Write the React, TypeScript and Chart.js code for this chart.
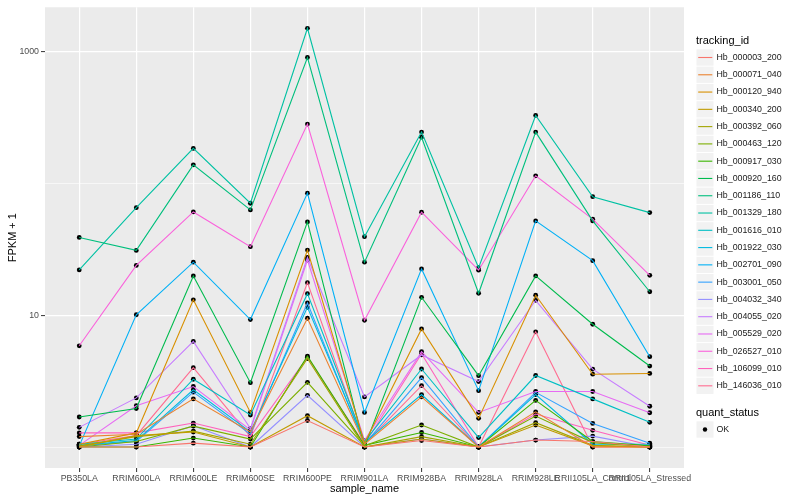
import React, { useEffect, useRef } from "react";
import { Chart, registerables } from "chart.js";

Chart.register(...registerables);

const SAMPLES = [
  "PB350LA", "RRIM600LA", "RRIM600LE", "RRIM600SE", "RRIM600PE", "RRIM901LA",
  "RRIM928BA", "RRIM928LA", "RRIM928LE", "RRII105LA_Control", "RRII105LA_Stressed",
];

const TRACKING_IDS = [
  "Hb_000003_200", "Hb_000071_040", "Hb_000120_940", "Hb_000340_200", "Hb_000392_060",
  "Hb_000463_120", "Hb_000917_030", "Hb_000920_160", "Hb_001186_110", "Hb_001329_180",
  "Hb_001616_010", "Hb_001922_030", "Hb_002701_090", "Hb_003001_050", "Hb_004032_340",
  "Hb_004055_020", "Hb_005529_020", "Hb_026527_010", "Hb_106099_010", "Hb_146036_010",
];

const COLORS = [
  "#F8766D", "#EA8331", "#D89000", "#C09B00", "#A3A500", "#7CAE00", "#39B600", "#00BB4E",
  "#00BF7D", "#00C1A3", "#00BFC4", "#00BAE0", "#00B0F6", "#35A2FF", "#9590FF", "#C77CFF",
  "#E76BF3", "#FA62DB", "#FF62BC", "#FF6C91",
];

const Y_TICKS = [1, 10, 100, 1000];
const Y_LABELED = [10, 1000];

// FPKM + 1 per sample (same order as SAMPLES)
const hb_000003_200 = [1.0, 1.0, 1.07, 1.0, 1.59, 1.0, 1.12, 1.0, 1.13, 1.1, 1.0];
const hb_000071_040 = [1.2, 1.25, 2.32, 1.3, 9.5, 1.05, 2.4, 1.0, 1.85, 1.0, 1.0];
const hb_000120_940 = [1.05, 1.28, 13.1, 1.83, 31.3, 1.07, 7.88, 1.65, 14.2, 3.57, 3.62];
const hb_000340_200 = [1.0, 1.22, 1.3, 1.0, 1.73, 1.0, 1.15, 1.0, 1.47, 1.02, 1.0];
const hb_000392_060 = [1.02, 1.2, 1.32, 1.05, 4.7, 1.0, 1.2, 1.0, 1.53, 1.03, 1.0];
const hb_000463_120 = [1.0, 1.1, 1.44, 1.15, 3.1, 1.02, 1.47, 1.0, 1.72, 1.08, 1.0];
const hb_000917_030 = [1.0, 1.0, 1.17, 1.0, 4.9, 1.03, 1.29, 1.0, 2.26, 1.1, 1.02];
const hb_000920_160 = [1.69, 1.96, 19.9, 3.08, 51.2, 1.0, 13.7, 3.48, 19.9, 8.55, 4.12];
const hb_001186_110 = [39, 31.1, 138.7, 63.1, 906, 25.3, 225, 14.7, 246, 52.1, 15.1];
const hb_001329_180 = [22.1, 65.6, 185, 70.9, 1510, 39.5, 246, 23, 329, 79.5, 60.2];
const hb_001616_010 = [1.05, 1.15, 3.27, 1.75, 14.6, 1.1, 3.91, 1.18, 3.49, 2.32, 1.54];
const hb_001922_030 = [1.03, 1.12, 2.72, 1.3, 11.5, 1.08, 2.5, 1.0, 2.5, 1.05, 1.05];
const hb_002701_090 = [1.02, 10.1, 25.3, 9.28, 84.6, 1.83, 22.5, 2.68, 52.1, 26, 4.85];
const hb_003001_050 = [1.02, 1.1, 2.61, 1.25, 12.4, 1.05, 3.36, 1.0, 2.6, 1.51, 1.07];
const hb_004032_340 = [1.0, 1.05, 1.45, 1.0, 2.47, 1.0, 1.15, 1.0, 1.13, 1.21, 1.0];
const hb_004055_020 = [1.41, 2.36, 6.33, 1.38, 27.5, 2.4, 5.0, 3.14, 13, 3.9, 2.04];
const hb_005529_020 = [1.03, 2.06, 2.88, 1.35, 26.3, 1.12, 5.3, 1.83, 2.64, 2.64, 1.82];
const hb_026527_010 = [5.87, 23.9, 60.9, 33.2, 283, 9.17, 60.6, 22, 114.5, 53.7, 20.1];
const hb_106099_010 = [1.28, 1.28, 1.52, 1.2, 4.8, 1.05, 5.1, 1.0, 1.78, 1.34, 1.03];
const hb_146036_010 = [1.05, 1.22, 4.0, 1.2, 17.7, 1.05, 2.92, 1.0, 7.49, 1.0, 1.0];

const SERIES = [
  hb_000003_200, hb_000071_040, hb_000120_940, hb_000340_200, hb_000392_060,
  hb_000463_120, hb_000917_030, hb_000920_160, hb_001186_110, hb_001329_180,
  hb_001616_010, hb_001922_030, hb_002701_090, hb_003001_050, hb_004032_340,
  hb_004055_020, hb_005529_020, hb_026527_010, hb_106099_010, hb_146036_010,
];

const FONT = "'Liberation Sans', Arial, Helvetica, sans-serif";

const panelBg = {
  id: "panelBg",
  beforeDraw(chart: any) {
    const { ctx, chartArea } = chart;
    ctx.save();
    ctx.fillStyle = "#EBEBEB";
    ctx.fillRect(chartArea.left, chartArea.top, chartArea.right - chartArea.left, chartArea.bottom - chartArea.top);
    ctx.restore();
  },
};

const ggLegend = {
  id: "ggLegend",
  afterDraw(chart: any) {
    const { ctx } = chart;
    ctx.save();
    ctx.textBaseline = "middle";
    ctx.textAlign = "left";
    ctx.fillStyle = "#000000";
    ctx.font = `11px ${FONT}`;
    ctx.fillText("tracking_id", 696, 41);
    const step = 17.28;
    ctx.font = `8.8px ${FONT}`;
    TRACKING_IDS.forEach((id, i) => {
      const cy = 57.5 + i * step;
      ctx.fillStyle = "#F2F2F2";
      ctx.fillRect(696.5, cy - step / 2 + 0.5, 17, step - 1);
      ctx.strokeStyle = COLORS[i];
      ctx.lineWidth = 1.1;
      ctx.beginPath();
      ctx.moveTo(698.2, cy);
      ctx.lineTo(712.3, cy);
      ctx.stroke();
      ctx.fillStyle = "#1A1A1A";
      ctx.fillText(id, 716.5, cy);
    });
    ctx.fillStyle = "#000000";
    ctx.font = `11px ${FONT}`;
    ctx.fillText("quant_status", 696, 412.5);
    const oy = 429.5;
    ctx.fillStyle = "#F2F2F2";
    ctx.fillRect(696.5, oy - step / 2 + 0.5, 17, step - 1);
    ctx.fillStyle = "#000000";
    ctx.beginPath();
    ctx.arc(705, oy, 2.2, 0, Math.PI * 2);
    ctx.fill();
    ctx.fillStyle = "#1A1A1A";
    ctx.font = `8.8px ${FONT}`;
    ctx.fillText("OK", 716.5, oy);
    ctx.restore();
  },
};

export default function App() {
  const ref = useRef<HTMLCanvasElement | null>(null);

  useEffect(() => {
    if (!ref.current) return;
    const lineSets = SERIES.map((vals, i) => ({
      type: "line" as const,
      label: TRACKING_IDS[i],
      data: vals.map((v, j) => ({ x: j, y: v })),
      borderColor: COLORS[i],
      backgroundColor: COLORS[i],
      borderWidth: 1.1,
      pointRadius: 0,
      fill: false,
      tension: 0,
    }));
    const pointSets = SERIES.map((vals, i) => ({
      type: "line" as const,
      label: TRACKING_IDS[i] + " OK",
      data: vals.map((v, j) => ({ x: j, y: v })),
      showLine: false,
      borderColor: "#000000",
      backgroundColor: "#000000",
      pointBackgroundColor: "#000000",
      pointBorderWidth: 0,
      pointRadius: 2.4,
    }));

    const chart = new Chart(ref.current, {
      type: "line",
      data: { datasets: [...lineSets, ...pointSets] as any },
      options: {
        animation: false,
        responsive: false,
        devicePixelRatio: 1,
        layout: { padding: { top: 5, right: 116, left: 0, bottom: 0 } },
        plugins: { legend: { display: false }, tooltip: { enabled: false } },
        scales: {
          x: {
            type: "linear",
            min: -0.6,
            max: 10.6,
            afterBuildTicks: (scale: any) => {
              scale.ticks = SAMPLES.map((_, i) => ({ value: i }));
            },
            afterFit: (scale: any) => {
              scale.height = 32;
            },
            border: { display: false },
            grid: {
              color: "#FFFFFF",
              lineWidth: 1.2,
              tickColor: "#333333",
              tickLength: 4,
              tickWidth: 1,
            },
            ticks: {
              autoSkip: false,
              maxRotation: 0,
              minRotation: 0,
              padding: 1,
              color: "#4D4D4D",
              font: { family: FONT, size: 8.8 },
              callback: (v: any) => SAMPLES[Number(v)] ?? "",
            },
            title: {
              display: true,
              text: "sample_name",
              color: "#000000",
              font: { family: FONT, size: 11 },
              padding: { top: 0, bottom: 4 },
            },
          },
          y: {
            type: "logarithmic",
            min: 0.693,
            max: 2180,
            afterBuildTicks: (scale: any) => {
              scale.ticks = Y_TICKS.map((v) => ({ value: v }));
            },
            afterFit: (scale: any) => {
              scale.width = 45;
            },
            border: { display: false },
            grid: {
              color: "#FFFFFF",
              lineWidth: (c: any) => (Y_LABELED.includes(c.tick?.value) ? 1.2 : 0.6),
              tickColor: (c: any) => (Y_LABELED.includes(c.tick?.value) ? "#333333" : "rgba(0,0,0,0)"),
              tickLength: 4,
              tickWidth: 1,
            },
            ticks: {
              padding: 2,
              color: "#4D4D4D",
              font: { family: FONT, size: 8.8 },
              callback: (v: any) => (Y_LABELED.includes(Number(v)) ? String(v) : ""),
            },
            title: {
              display: true,
              text: "FPKM + 1",
              color: "#000000",
              font: { family: FONT, size: 11 },
              padding: { top: 6, bottom: 0 },
            },
          },
        },
      } as any,
      plugins: [panelBg, ggLegend],
    });
    return () => chart.destroy();
  }, []);

  return (
    <div style={{ position: "fixed", left: 0, top: 0, width: 800, height: 500, background: "#FFFFFF" }}>
      <canvas ref={ref} width={800} height={500} style={{ width: 800, height: 500 }} />
    </div>
  );
}
